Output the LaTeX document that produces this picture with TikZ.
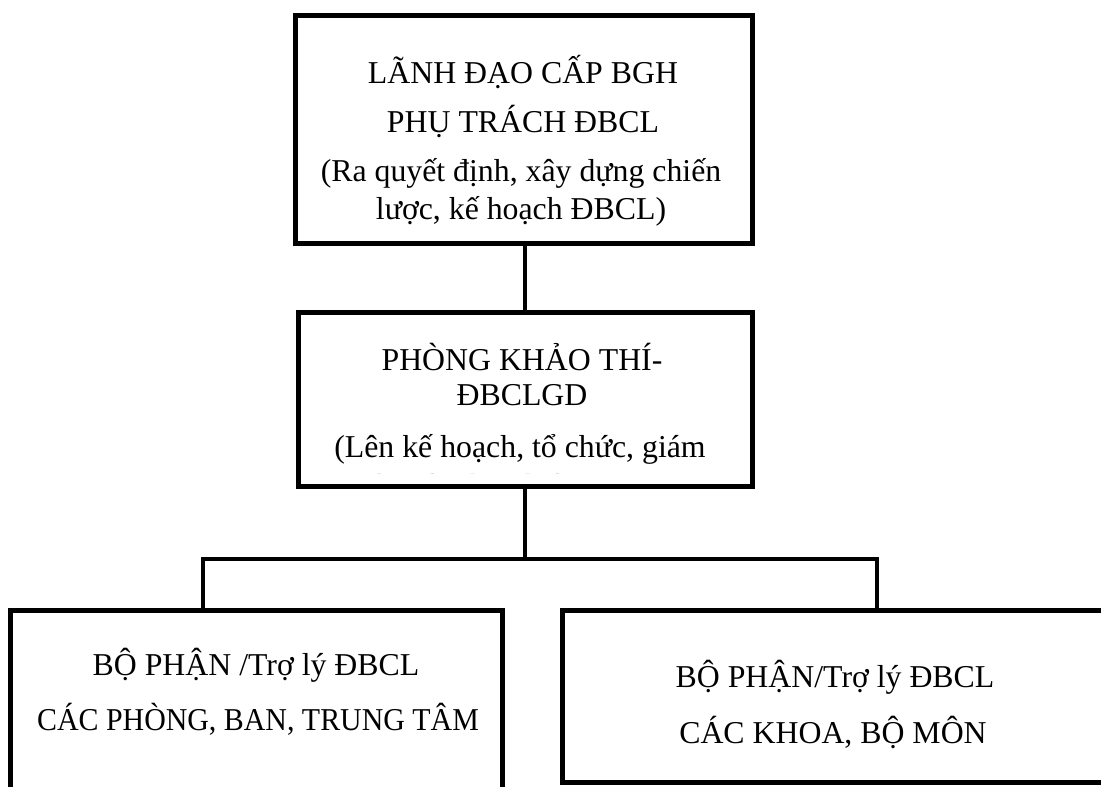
\documentclass[tikz,border=0pt]{standalone}
\usepackage{fontspec}
\setmainfont{Liberation Serif}
\usetikzlibrary{fit}
\begin{document}
\begin{tikzpicture}[x=0.5pt,y=-0.5pt,
  box/.style={draw=black,line width=2.5pt,inner sep=0pt,fill=white},
  link/.style={draw=black,line width=2pt},
  txt/.style={anchor=base,inner sep=0pt,font=\fontsize{15.9}{18.3}\selectfont}]
\clip (0,0) rectangle (1101,786);
\fill[white] (0,0) rectangle (1101,786);
% boxes
\node[box,fit={(295,16) (752,243)}] (top) {};
\node[box,fit={(298,312) (752,486)}] (mid) {};
\node[box,fit={(10,610) (502,820)}] (left) {};
\node[box,fit={(562,610) (1112,782)}] (right) {};
% connectors
\coordinate (jl) at (203,559);
\coordinate (jr) at (877,559);
\draw[link] (top.south -| mid.north) -- (mid.north);
\draw[link] (mid.south) -- (mid.south |- jl);
\draw[link] (left.north -| jl) -- (jl) -- (jr) -- (right.north -| jr);
% top box text
\node[txt] (t1) at (523,84) {LÃNH ĐẠO CẤP BGH};
\node[txt] (t2) at (523,133) {PHỤ TRÁCH ĐBCL};
\node[txt] (t3) at (521,182) {(Ra quyết định, xây dựng chiến};
\node[txt] (t4) at (521,220) {lược, kế hoạch ĐBCL)};
% middle box text
\node[txt] (m1) at (522,370) {PHÒNG KHẢO THÍ-};
\node[txt] (m2) at (522,405) {ĐBCLGD};
\node[txt] (m3) at (520,457) {(Lên kế hoạch, tổ chức, giám};
\begin{scope}
\clip (300,314) rectangle (750,473);
\node[txt] (m4) at (520,496) {sát việc thực hiện ĐBCL)};
\end{scope}
% left box text
\node[txt] (l1) at (256,675) {BỘ PHẬN /Trợ lý ĐBCL};
\node[txt] (l2) at (258,730) {\scalebox{0.94}[1]{CÁC PHÒNG, BAN, TRUNG TÂM}};
% right box text
\node[txt] (r1) at (835,687) {BỘ PHẬN/Trợ lý ĐBCL};
\node[txt] (r2) at (833,743) {CÁC KHOA, BỘ MÔN};
\end{tikzpicture}
\end{document}
